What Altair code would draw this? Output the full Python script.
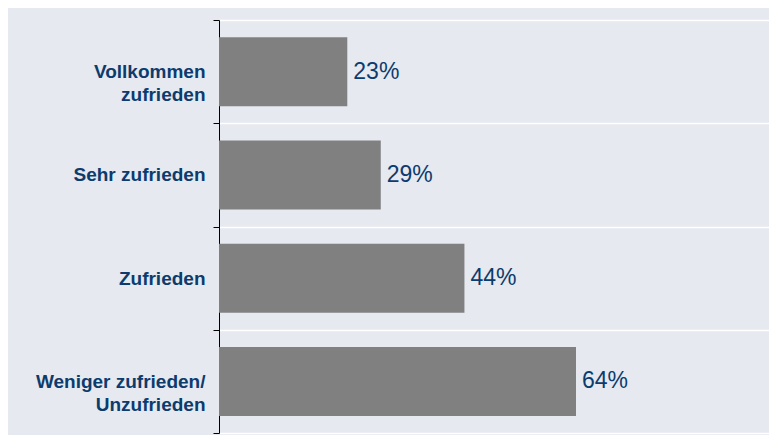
import altair as alt
import pandas as pd

categories = ["Vollkommen|zufrieden", "Sehr zufrieden", "Zufrieden", "Weniger zufrieden/|Unzufrieden"]
values = [23, 29, 44, 64]

df = pd.DataFrame({"cat": categories, "value": values})

NAVY = "#0c3b6e"
FONT = "Liberation Sans"

y_enc = alt.Y(
    "cat:N",
    sort=categories,
    title=None,
    scale=alt.Scale(paddingInner=0, paddingOuter=0),
    axis=alt.Axis(
        labelExpr="split(datum.label, '|')",
        labelFont=FONT,
        labelFontSize=19,
        labelFontWeight="bold",
        labelColor=NAVY,
        labelLineHeight=23,
        labelPadding=8,
        labelAlign="right",
        labelBaseline="middle",
        domainColor="#000000",
        domainWidth=1,
        tickColor="#000000",
        tickSize=6,
        tickBand="extent",
        grid=True,
        gridColor="#ffffff",
        gridWidth=1.5,
        labelLimit=300,
    ),
)

x_enc = alt.X("value:Q", axis=None, scale=alt.Scale(domain=[0, 98.6], nice=False))

base = alt.Chart(df).encode(y=y_enc, x=x_enc)

bars = base.mark_bar(color="#808080", size=69)
labels = base.transform_calculate(txt="datum.value + '%'").mark_text(
    align="left", baseline="middle", dx=6, fontSize=23, font=FONT, color=NAVY
).encode(text="txt:N")

chart = (
    alt.layer(bars, labels)
    .properties(
        width=550,
        height=413,
        background="#e6e9ef",
        autosize=alt.AutoSizeParams(type="none"),
        padding={"left": 211, "top": 12, "right": 0, "bottom": 2},
    )
    .configure_view(stroke=None)
)

chart.save("out.html", embed_options={"renderer": "svg", "actions": False})
